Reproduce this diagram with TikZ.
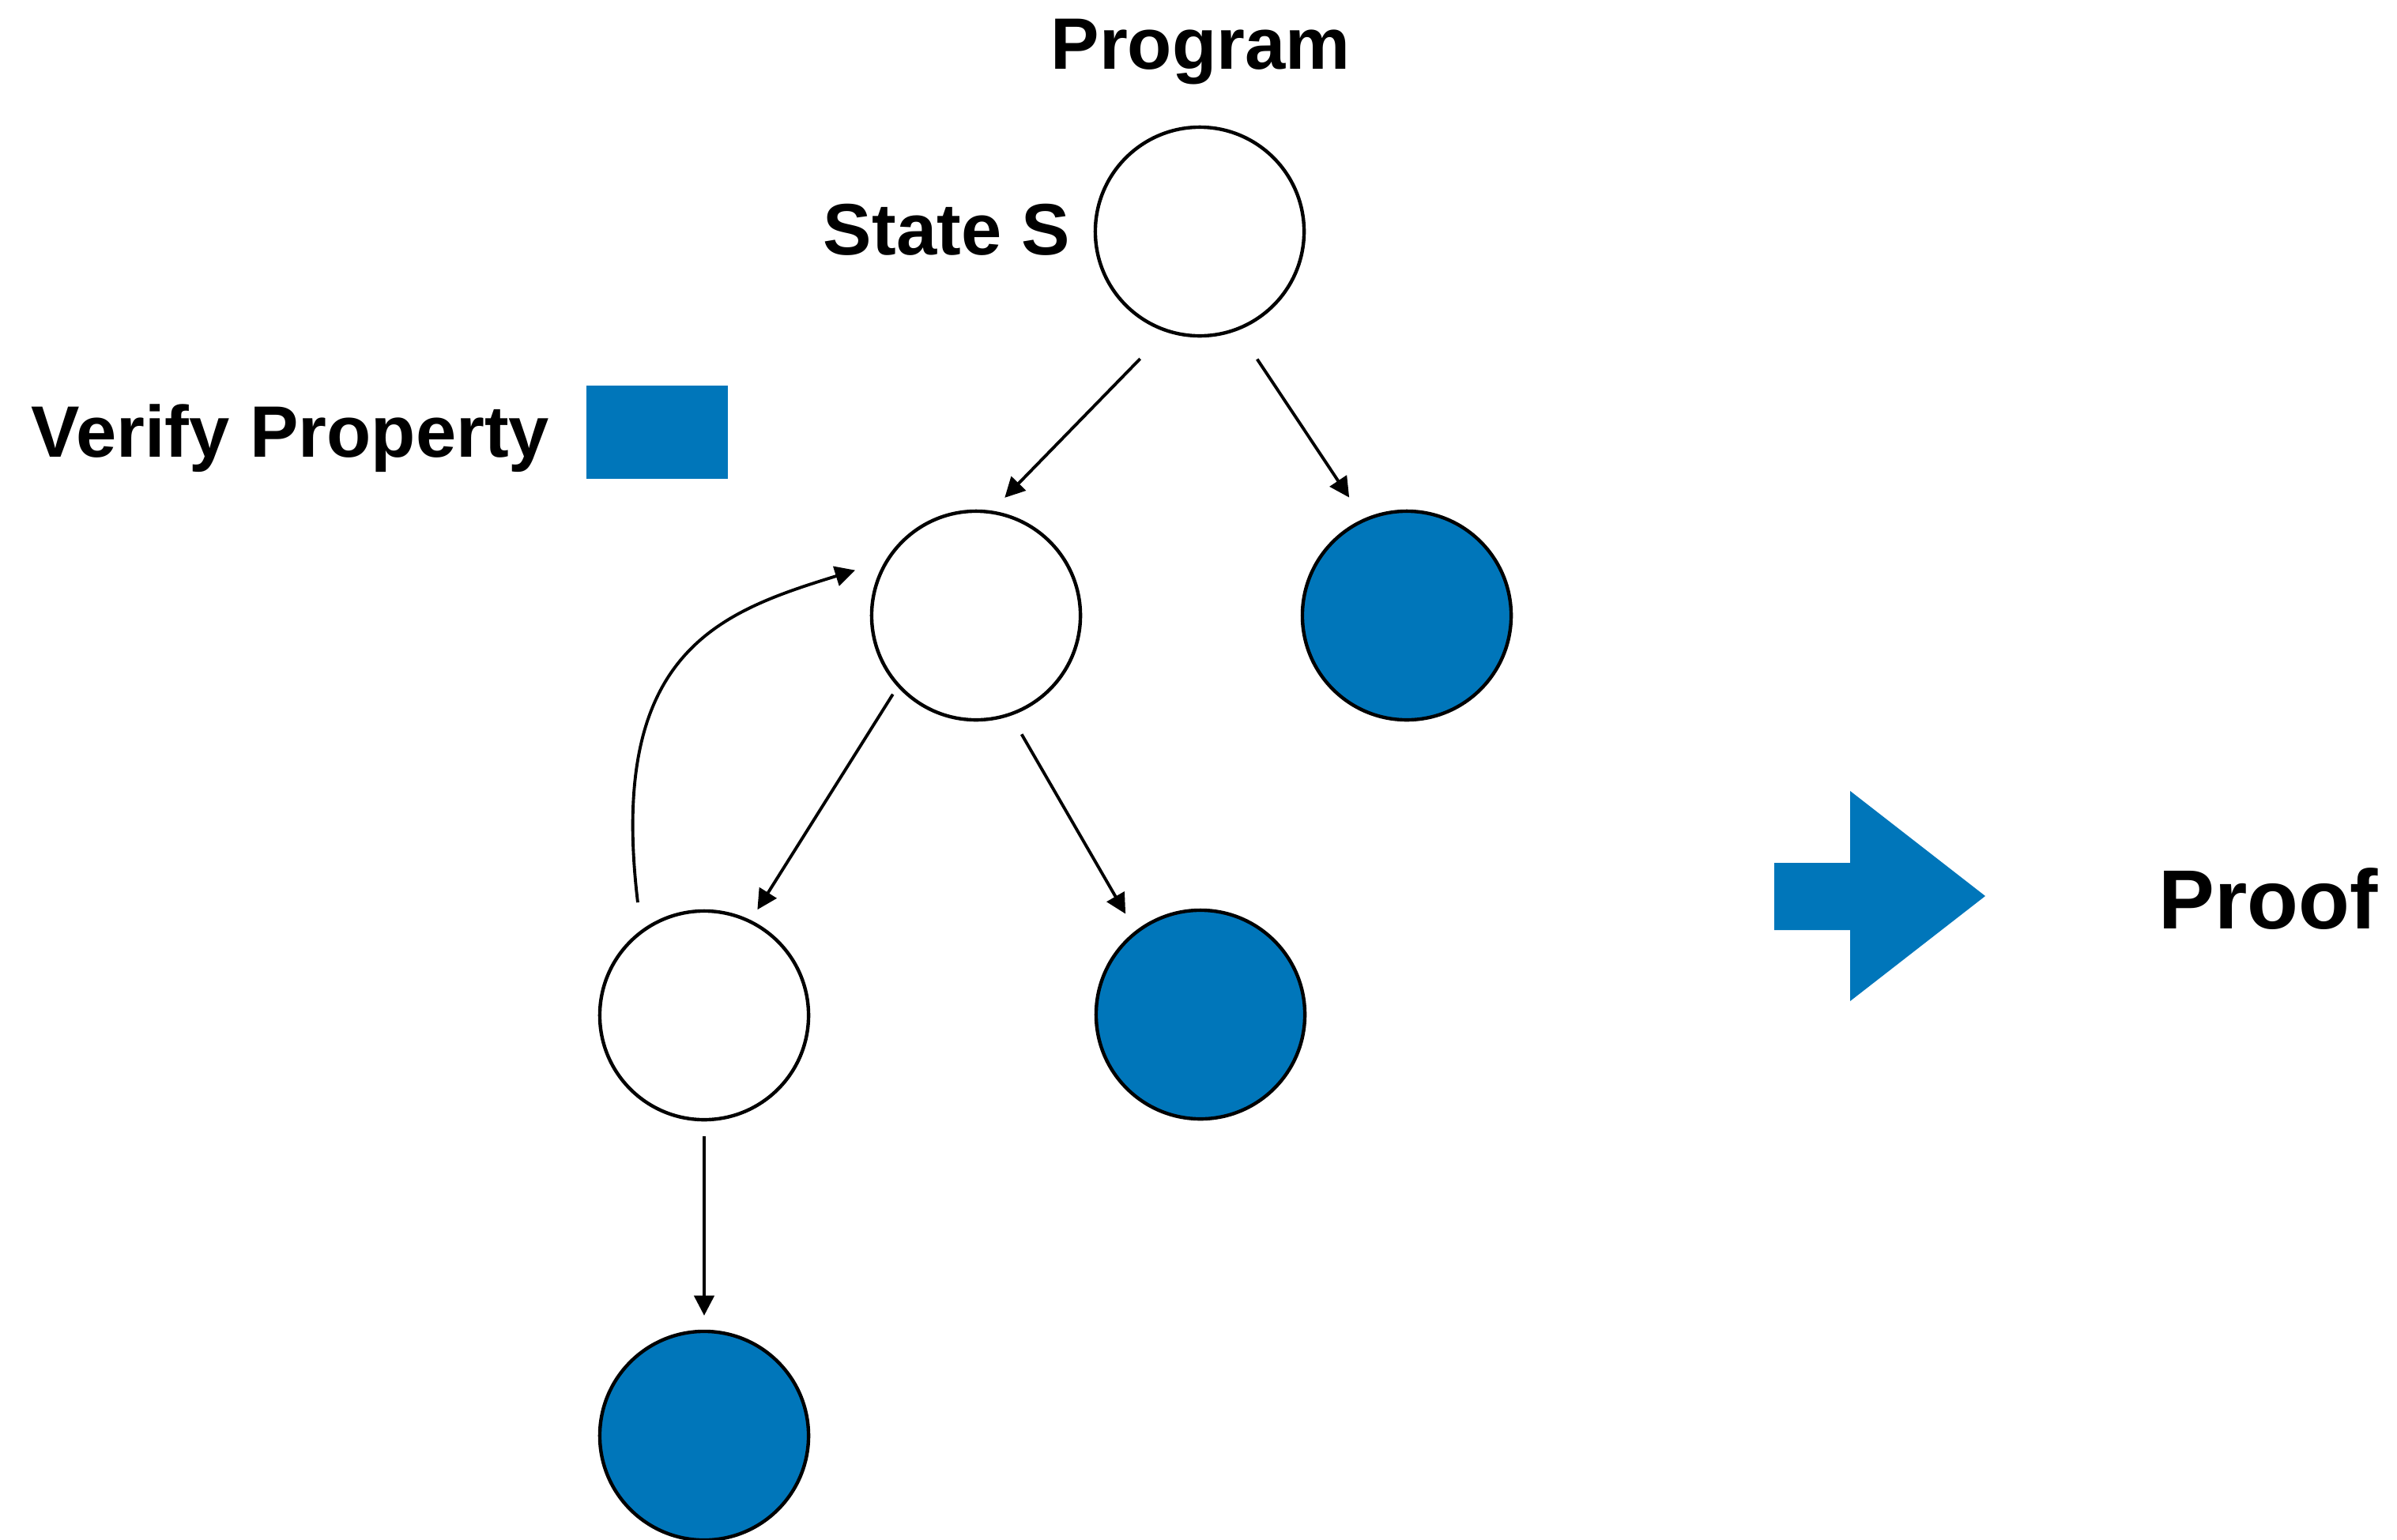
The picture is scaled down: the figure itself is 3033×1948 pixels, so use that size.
\documentclass[tikz,border=0pt]{standalone}
\usepackage{fontspec}
\setmainfont{Liberation Sans}
\usetikzlibrary{arrows.meta}
\definecolor{propblue}{RGB}{0,118,186}
\begin{document}
\begin{tikzpicture}[x=0.01cm,y=-0.01cm,
  state/.style={circle, draw=black, line width=1.25pt, minimum size=2.64cm,
                inner sep=0pt, outer sep=0pt, fill=white},
  verified/.style={state, fill=propblue},
  heading/.style={font=\bfseries\fontsize{26.2}{30}\selectfont, inner sep=0pt},
  edge/.style={line width=1.1pt, -{Triangle[length=7.2pt,width=7.2pt]}}
]
\useasboundingbox (0,0) rectangle (3033,1948);
\fill[white] (0,0) rectangle (3033,1948);

% state tree
\node[state]    (root) at (1518,293)  {};
\node[state]    (ml)   at (1235,779)  {};
\node[verified] (rb)   at (1780,779)  {};
\node[state]    (bl)   at (891,1285)  {};
\node[verified] (mb)   at (1519,1284) {};
\node[verified] (bb)   at (891,1817)  {};

% labels
\node[heading, anchor=base]      (prog)  at (1519,87)  {Program};
\node[heading, anchor=base east] (stS)   at (1355,322) {State S};
\node[heading, anchor=base west] (verif) at (39,578)   {Verify Property};
\node[fill=propblue, inner sep=0pt, minimum width=1.79cm, minimum height=1.18cm,
      anchor=north west] (key) at (741,487) {};
\node[heading, font=\bfseries\fontsize{30.2}{34}\selectfont,
      anchor=base west] (proof) at (2731,1175) {Proof};

% transitions
\draw[edge, shorten <=0.495cm, shorten >=0.256cm] (root.252.2) -- (ml.82.6);
\draw[edge, shorten <=0.459cm, shorten >=0.345cm] (root.291.7) -- (rb.114.3);
\draw[edge, shorten <=0.133cm, shorten >=0.178cm] (ml.222.9) -- (bl.64.8);
\draw[edge, shorten <=0.293cm, shorten >=0.27cm]  (ml.289.2) -- (mb.128.2);
\draw[edge, shorten <=0.21cm,  shorten >=0.2cm]   (bl.south) -- (bb.north);
% back edge
\draw[edge, shorten <=0.377cm, shorten >=0.428cm]
  (bl.127.6) .. controls +(-42.9,-355.2) and +(-212.8,65.7) .. (ml.148.2);

% block arrow towards the proof
\fill[propblue] (2245,1092) -- (2341,1092) -- (2341,1001) -- (2512,1134)
  -- (2341,1267) -- (2341,1177) -- (2245,1177) -- cycle;
\end{tikzpicture}
\end{document}
